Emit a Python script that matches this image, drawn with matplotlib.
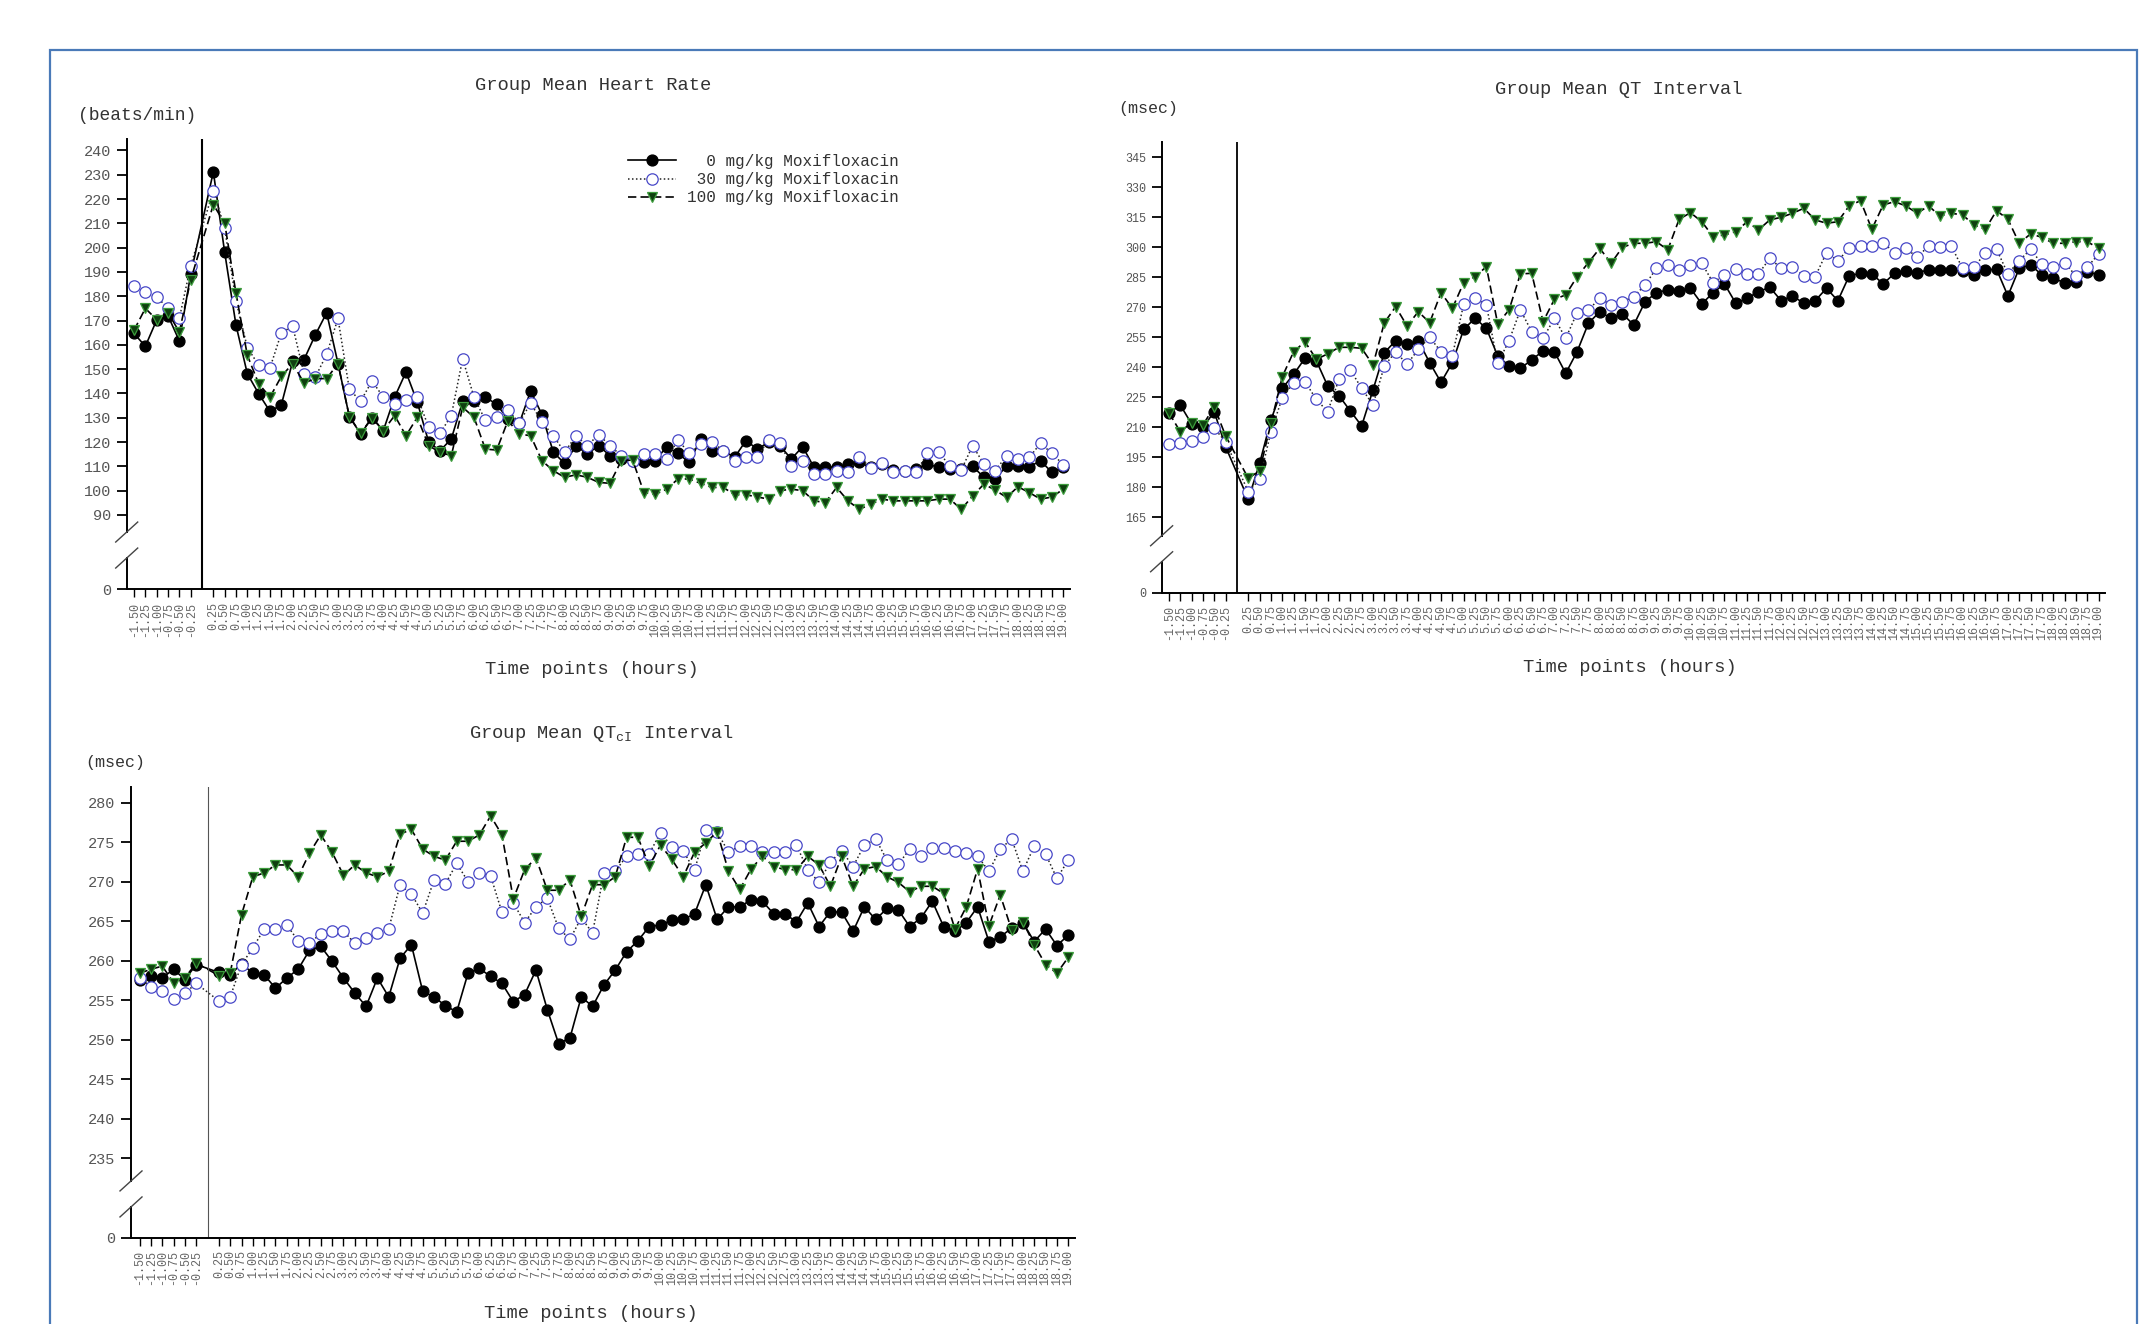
import matplotlib
matplotlib.use('Agg')
import matplotlib.pyplot as plt
from matplotlib.patches import Rectangle

plt.rcParams['font.family'] = ['Liberation Mono', 'DejaVu Sans Mono']
plt.rcParams['mathtext.fontset'] = 'custom'
plt.rcParams['mathtext.rm'] = 'Liberation Mono'
plt.rcParams['text.color'] = '#333333'

W, H = 2144, 1324

# sampling times (hours); slot 6 is dosing (0 h) and has no sample
pre_dose = ['-1.50', '-1.25', '-1.00', '-0.75', '-0.50', '-0.25']
post_dose = ['%.2f' % (q / 4) for q in range(1, 77)]
time_labels = pre_dose + post_dose
slots = list(range(6)) + list(range(7, 83))

groups = ['  0 mg/kg Moxifloxacin', ' 30 mg/kg Moxifloxacin', '100 mg/kg Moxifloxacin']

# heart rate (beats/min)
hr_0 = [164.7, 159.4, 170.2, 172.0, 161.6, 189.0,
        231.2, 198.1, 168.1, 148.1, 139.9, 132.6, 135.3, 153.2, 153.9, 164.1,
        173.2, 152.3, 130.5, 123.3, 130.0, 124.7, 138.5, 148.8, 136.4, 120.0,
        116.4, 121.3, 136.7, 136.8, 138.5, 135.5, 129.5, 127.7, 141.0, 131.3,
        115.8, 111.2, 118.5, 115.1, 118.5, 114.4, 113.0, 112.3, 111.6, 112.3,
        118.1, 115.3, 111.6, 121.3, 116.4, 116.4, 113.7, 120.6, 117.1, 119.9,
        118.5, 113.0, 118.1, 109.6, 109.8, 109.6, 110.9, 111.6, 109.6, 110.9,
        108.5, 108.2, 108.9, 110.9, 109.6, 108.9, 108.9, 110.0, 105.5, 104.8,
        110.2, 110.2, 109.8, 112.3, 107.5, 109.6]
hr_30 = [184.2, 181.9, 179.8, 175.0, 170.9, 192.5,
         223.5, 208.0, 178.0, 158.9, 151.6, 150.5, 164.9, 167.7, 148.1, 146.7,
         156.1, 170.9, 141.7, 136.8, 145.1, 138.5, 135.7, 137.4, 138.5, 126.1,
         123.6, 130.9, 154.3, 138.5, 128.9, 130.5, 133.0, 128.0, 136.0, 128.2,
         122.6, 115.8, 122.6, 118.5, 123.1, 118.5, 114.4, 112.3, 115.1, 115.1,
         113.0, 120.9, 115.3, 119.2, 119.9, 116.4, 112.3, 113.7, 114.0, 120.9,
         119.5, 110.2, 112.3, 106.8, 106.8, 108.2, 107.5, 114.0, 109.3, 111.2,
         107.5, 107.9, 107.5, 115.3, 115.8, 110.2, 108.5, 118.5, 110.9, 108.2,
         114.4, 113.0, 113.7, 119.5, 115.3, 110.7]
hr_100 = [166.0, 175.0, 170.4, 173.2, 165.3, 186.7,
          217.7, 210.1, 181.2, 155.7, 144.0, 138.5, 147.0, 152.3, 144.3, 146.1,
          146.1, 152.3, 130.5, 123.6, 130.0, 124.7, 130.9, 122.6, 130.2, 118.5,
          115.8, 114.4, 134.3, 130.2, 117.1, 116.7, 128.8, 123.3, 122.6, 112.3,
          108.2, 105.5, 106.5, 105.5, 103.4, 103.0, 112.3, 112.6, 99.2, 98.5,
          100.6, 104.8, 104.8, 103.0, 101.3, 101.3, 98.3, 98.3, 97.4, 96.5,
          100.0, 100.6, 100.0, 95.8, 95.1, 101.3, 95.8, 92.3, 94.4, 96.5,
          95.8, 95.8, 95.8, 95.8, 96.5, 96.5, 92.3, 97.8, 102.7, 100.2,
          97.2, 101.6, 99.2, 96.5, 97.4, 100.6]

# QT interval (msec)
qt_0 = [217.0, 221.2, 211.7, 210.0, 217.8, 200.3,
        174.0, 192.0, 213.7, 229.5, 236.5, 244.5, 243.3, 230.7, 225.8, 218.2,
        210.7, 228.7, 247.3, 253.3, 251.7, 253.3, 242.3, 232.5, 242.3, 259.0,
        264.5, 259.5, 245.7, 240.7, 239.5, 243.7, 248.2, 247.8, 237.0, 247.8,
        262.0, 267.8, 264.5, 266.7, 261.2, 272.8, 277.3, 278.7, 278.3, 279.5,
        271.7, 277.3, 281.7, 272.0, 274.5, 277.8, 280.0, 273.3, 275.7, 272.0,
        273.3, 279.5, 273.3, 285.7, 287.0, 286.7, 281.7, 287.0, 288.3, 287.3,
        288.7, 288.7, 288.7, 288.3, 286.2, 288.7, 289.0, 275.7, 289.5, 291.2,
        286.2, 284.5, 282.3, 282.8, 287.8, 286.2]
qt_30 = [201.7, 202.3, 203.3, 205.3, 209.5, 202.8,
         177.8, 184.0, 207.8, 224.8, 232.3, 232.8, 224.0, 217.8, 234.0, 238.7,
         229.5, 221.2, 240.7, 247.8, 241.5, 249.0, 255.0, 247.8, 245.7, 271.7,
         274.5, 271.2, 242.0, 253.3, 268.7, 257.8, 254.5, 264.5, 254.5, 267.3,
         268.7, 274.5, 271.2, 272.8, 275.3, 281.2, 289.5, 291.2, 288.7, 291.2,
         292.0, 282.3, 286.2, 289.0, 286.7, 286.7, 294.5, 289.5, 290.0, 285.7,
         285.3, 297.3, 293.3, 299.5, 300.7, 300.7, 302.3, 297.3, 299.5, 295.0,
         300.7, 300.3, 300.7, 289.5, 290.0, 297.0, 299.0, 286.7, 293.3, 299.0,
         291.7, 290.0, 292.3, 285.7, 290.0, 296.7]
qt_100 = [217.3, 207.8, 212.3, 211.2, 220.3, 205.7,
          184.5, 188.3, 212.0, 235.3, 247.8, 252.8, 244.0, 246.7, 250.0, 250.0,
          249.5, 241.2, 262.3, 270.3, 260.7, 267.8, 262.3, 277.3, 269.5, 282.3,
          285.3, 290.3, 261.7, 268.7, 286.7, 287.0, 262.8, 274.0, 276.2, 285.3,
          292.3, 299.5, 292.0, 300.0, 302.0, 302.0, 302.8, 298.7, 314.0, 317.3,
          312.8, 305.3, 306.2, 307.8, 312.8, 308.7, 313.7, 315.0, 317.0, 319.5,
          313.7, 312.0, 312.8, 320.7, 323.3, 309.0, 321.2, 322.8, 320.7, 317.0,
          320.7, 315.7, 317.0, 316.2, 311.2, 309.0, 318.3, 314.0, 302.0, 306.7,
          305.0, 302.0, 302.0, 302.8, 302.8, 299.5]

# corrected QT interval (msec)
qtc_0 = [257.6, 258.0, 257.8, 258.9, 257.6, 259.5,
         258.5, 258.2, 259.6, 258.4, 258.2, 256.5, 257.8, 258.9, 261.3, 261.8,
         259.9, 257.8, 255.9, 254.2, 257.8, 255.4, 260.3, 262.0, 256.1, 255.4,
         254.3, 253.5, 258.4, 259.0, 258.0, 257.1, 254.8, 255.7, 258.8, 253.8,
         249.5, 250.2, 255.4, 254.2, 256.9, 258.8, 261.1, 262.5, 264.3, 264.5,
         265.1, 265.2, 265.9, 269.6, 265.2, 266.8, 266.8, 267.7, 267.5, 265.9,
         265.9, 264.9, 267.3, 264.3, 266.2, 266.1, 263.7, 266.8, 265.2, 266.6,
         266.4, 264.3, 265.4, 267.5, 264.3, 263.7, 264.8, 266.8, 262.4, 263.0,
         264.1, 264.8, 262.4, 264.0, 261.9, 263.2]
qtc_30 = [257.8, 256.7, 256.1, 255.2, 255.9, 257.1,
          254.9, 255.4, 259.5, 261.6, 264.0, 264.0, 264.5, 262.5, 262.2, 263.4,
          263.7, 263.7, 262.2, 262.8, 263.5, 264.0, 269.6, 268.4, 266.0, 270.2,
          269.7, 272.3, 270.0, 271.1, 270.7, 266.1, 267.3, 264.8, 266.8, 267.9,
          264.1, 262.7, 265.4, 263.5, 271.1, 271.3, 273.2, 273.5, 273.5, 276.2,
          274.4, 273.9, 271.4, 276.5, 276.3, 273.7, 274.5, 274.5, 273.7, 273.7,
          273.8, 274.6, 271.5, 269.9, 272.5, 273.9, 271.9, 274.6, 275.4, 272.7,
          272.2, 274.1, 273.2, 274.2, 274.2, 273.9, 273.6, 273.2, 271.3, 274.1,
          275.4, 271.3, 274.5, 273.5, 270.4, 272.7]
qtc_100 = [258.4, 258.9, 259.3, 257.2, 257.8, 259.7,
           258.1, 258.4, 265.8, 270.6, 271.1, 272.1, 272.1, 270.6, 273.6, 275.9,
           273.7, 270.8, 272.1, 271.1, 270.6, 271.3, 276.0, 276.6, 274.1, 273.2,
           272.7, 275.1, 275.1, 275.9, 278.3, 275.9, 267.8, 271.5, 273.0, 268.9,
           268.9, 270.2, 265.6, 269.6, 269.6, 270.6, 275.6, 275.6, 272.0, 274.6,
           272.8, 270.6, 273.7, 274.9, 276.3, 271.3, 269.0, 271.6, 273.2, 271.9,
           271.5, 271.5, 273.2, 272.1, 269.4, 273.2, 269.4, 271.6, 271.9, 270.6,
           269.9, 268.7, 269.4, 269.4, 268.5, 264.0, 266.8, 271.6, 264.4, 268.3,
           263.9, 264.9, 262.0, 259.5, 258.4, 260.4]

hr_ticks = list(range(90, 250, 10))
qt_ticks = list(range(165, 350, 15))
qtc_ticks = list(range(235, 285, 5))

styles = [
    dict(color='black', ls='-', lw=1.2, marker='o', ms=7.8,
         mfc='black', mec='black'),
    dict(color='#222222', ls=(0, (1, 1.6)), lw=1.1, marker='o', ms=8.2,
         mfc='white', mec='#4848c8', mew=0.9),
    dict(color='black', ls=(0, (5, 2.5)), lw=1.2, marker='v', ms=7.8,
         mfc='#0f3f0f', mec='#3c9c3c', mew=0.9),
]

fig = plt.figure(figsize=(W / 100, H / 100), dpi=100)


def fx(x):
    return x / W


def fy(y):
    return 1 - y / H


def panel(rect, series, y0, y1, yticks, xmin, ysize, vline):
    ax = fig.add_axes(rect)
    lines = []
    for vals, st in zip(series, styles):
        lines += ax.plot(slots, vals, **st)
    ax.axvline(6, **vline)
    ax.set_xlim(xmin, 82.6)
    ax.set_ylim(y0, y1)
    ax.set_xticks(slots)
    ax.set_xticklabels(time_labels, rotation=90, fontsize=8.5, color='#666666')
    ax.set_yticks([y0] + yticks)
    ax.set_yticklabels(['0'] + [str(t) for t in yticks], fontsize=ysize,
                       color='#555555')
    for s in ['top', 'right', 'left']:
        ax.spines[s].set_visible(False)
    ax.spines['bottom'].set_linewidth(1.4)
    ax.tick_params(axis='x', length=6, width=1, pad=3)
    ax.tick_params(axis='y', length=7, width=1.3, pad=4)

    # broken left axis just above zero
    wpx = rect[2] * W
    hpx = rect[3] * H
    up, low = 57 / hpx, 31 / hpx
    dx, dy = 11 / wpx, 10 / hpx
    ax.plot([0, 0], [up, 1], transform=ax.transAxes, color='black', lw=1.4,
            clip_on=False)
    ax.plot([0, 0], [0, low], transform=ax.transAxes, color='black', lw=1.4,
            clip_on=False)
    for f in (up, low):
        ax.plot([-dx, dx], [f - dy, f + dy], transform=ax.transAxes,
                color='#444444', lw=1.0, clip_on=False)
    return ax, lines


ax1, handles = panel([0.0591, 0.5551, 0.4400, 0.3399], [hr_0, hr_30, hr_100],
                     59.5, 244.7, hr_ticks, -0.644, 11,
                     dict(color='black', lw=1.5))
ax2, _ = panel([0.5418, 0.5523, 0.4402, 0.3407], [qt_0, qt_30, qt_100],
               127.3, 352.8, qt_ticks, -0.644, 8.5,
               dict(color='black', lw=1.3))
ax3, _ = panel([0.0611, 0.0650, 0.4403, 0.3408], [qtc_0, qtc_30, qtc_100],
               224.9, 282.0, qtc_ticks, -0.76, 11,
               dict(color='#555555', lw=0.8))

fig.legend(handles, groups, loc='upper left',
           bbox_to_anchor=(fx(628), fy(154)), frameon=False, fontsize=11.5,
           handlelength=3.0, handletextpad=0.7, labelspacing=0.2,
           borderpad=0, borderaxespad=0)

fig.text(fx(593), fy(85), 'Group Mean Heart Rate', fontsize=13.5,
         ha='center', va='center')
fig.text(fx(78), fy(115), '(beats/min)', fontsize=13, ha='left', va='center')
fig.text(fx(592), fy(670), 'Time points (hours)', fontsize=13.5,
         ha='center', va='center')

fig.text(fx(1619), fy(89), 'Group Mean QT Interval', fontsize=13.5,
         ha='center', va='center')
fig.text(fx(1118), fy(109), '(msec)', fontsize=12, ha='left', va='center')
fig.text(fx(1630), fy(667), 'Time points (hours)', fontsize=13.5,
         ha='center', va='center')

fig.text(fx(602), fy(734), r'Group Mean QT$_{\mathrm{cI}}$ Interval',
         fontsize=13.5, ha='center', va='center')
fig.text(fx(85), fy(762), '(msec)', fontsize=12, ha='left', va='center')
fig.text(fx(591), fy(1313), 'Time points (hours)', fontsize=13.5,
         ha='center', va='center')

# page frame
fig.add_artist(Rectangle((fx(50), -0.02), fx(2137) - fx(50), fy(50) + 0.02,
                         transform=fig.transFigure, fill=False,
                         edgecolor='#4a7ab8', lw=1.6))

fig.savefig('out.png', dpi=100)
